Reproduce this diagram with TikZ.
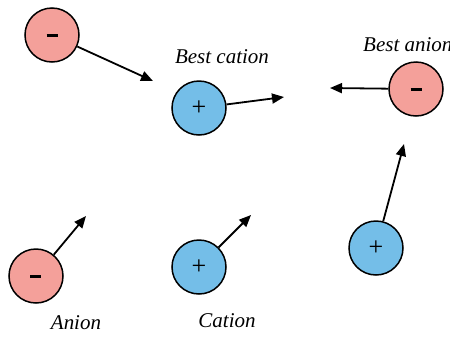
\documentclass[tikz,border=0pt]{standalone}
\usepackage{fontspec}
\setmainfont{Liberation Serif}
\usetikzlibrary{arrows.meta}
\definecolor{anionred}{HTML}{F4A09A}
\definecolor{cationblue}{HTML}{74BEE8}
\newcommand{\minussign}{\raisebox{-4pt}{\rule{11pt}{2.6pt}}}
\tikzset{
  ion/.style={circle, draw=black, line width=1.5pt, minimum size=54pt, inner sep=0pt},
  anionball/.style={ion, fill=anionred},
  cationball/.style={ion, fill=cationblue, font=\fontsize{26}{26}\selectfont},
  lbl/.style={font=\itshape\fontsize{21}{24}\selectfont, inner sep=0pt},
  move/.style={line width=1.8pt, -{Triangle[length=12pt,width=10pt]}}
}
\begin{document}
\begin{tikzpicture}[x=1pt,y=-1pt]
\useasboundingbox (0,0) rectangle (450,338);
% nodes
\node[anionball] (a1) at (52,35) {\minussign};
\node[cationball] (c1) at (199,108) {+};
\node[anionball] (a2) at (416,89) {\minussign};
\node[cationball] (c2) at (376,248) {+};
\node[anionball] (a3) at (36,276) {\minussign};
\node[cationball] (c3) at (199,267) {+};
% labels
\node[lbl] (t1) at (222,57) {Best cation};
\node[lbl, anchor=west] (t2) at (363,45) {Best anion};
\node[lbl] (t3) at (76,323) {Anion};
\node[lbl] (t4) at (227,321) {Cation};
% arrow tips
\coordinate (p1) at (153,81);
\coordinate (p2) at (284,97);
\coordinate (p3) at (330,88);
\coordinate (p4) at (404,144);
\coordinate (p5) at (86,216);
\coordinate (p6) at (251,215);
% arrows
\draw[move] (a1) -- (p1);
\draw[move] (c1) -- (p2);
\draw[move] (a2) -- (p3);
\draw[move] (c2) -- (p4);
\draw[move] (a3) -- (p5);
\draw[move] (c3) -- (p6);
\end{tikzpicture}
\end{document}
